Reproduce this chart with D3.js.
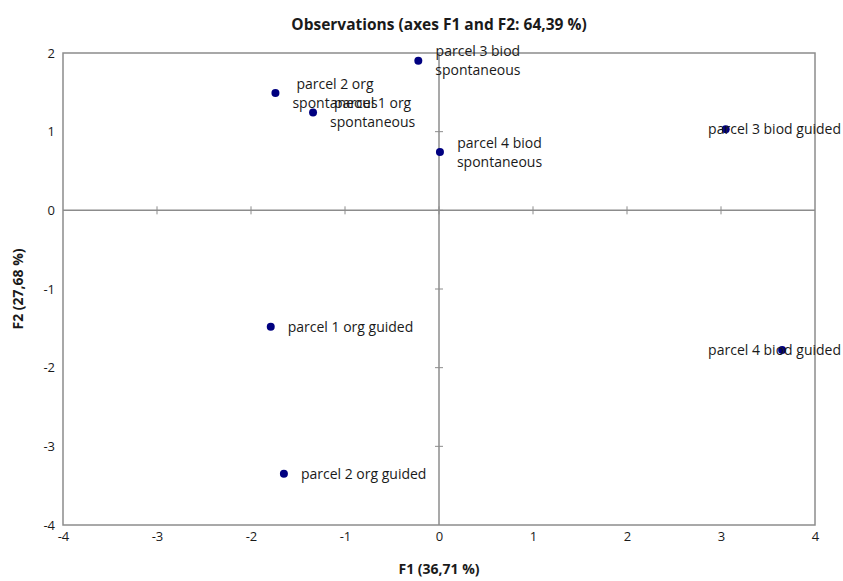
<!DOCTYPE html>
<html>
<head>
<meta charset="utf-8">
<title>Observations (axes F1 and F2)</title>
<style>
  body { margin: 0; background: #fff; }
  text { font-family: 'Open Sans', sans-serif; fill: #1a1a1a; }
</style>
</head>
<body>
<script src="https://d3js.org/d3.v7.min.js"></script>
<script>

var labels = ["parcel 1 org spontaneous", "parcel 2 org spontaneous", "parcel 3 biod spontaneous",
              "parcel 4 biod spontaneous", "parcel 1 org guided", "parcel 2 org guided",
              "parcel 3 biod guided", "parcel 4 biod guided"];
var f1 = [-1.34, -1.74, -0.22, 0.01, -1.79, -1.65, 3.05, 3.65];
var f2 = [1.245, 1.49, 1.90, 0.74, -1.48, -3.35, 1.03, -1.775];
var xTicks = [-4, -3, -2, -1, 0, 1, 2, 3, 4];
var yTicks = [-4, -3, -2, -1, 0, 1, 2];

var W = 843, H = 581;
var margin = {top: 53, right: 28, bottom: 56, left: 63};
var width = W - margin.left - margin.right,
    height = H - margin.top - margin.bottom;

var x = d3.scaleLinear().domain([-4, 4]).range([0, width]);
var y = d3.scaleLinear().domain([-4, 2]).range([height, 0]);

var svg = d3.select("body").append("svg")
    .attr("width", W)
    .attr("height", H);

var g = svg.append("g")
    .attr("transform", "translate(" + margin.left + "," + margin.top + ")");

var grey = "#8c8c8c";

// frame of the plot area
g.append("rect")
    .attr("x", 0).attr("y", 0)
    .attr("width", width).attr("height", height)
    .attr("fill", "none")
    .attr("stroke", grey)
    .attr("stroke-width", 1.5);

// zero axes with cross ticks
var xAxis0 = g.append("g")
    .attr("transform", "translate(0," + y(0) + ")");
xAxis0.append("line").attr("x1", 0).attr("x2", width)
    .attr("stroke", grey).attr("stroke-width", 1.5);
xAxis0.selectAll(".tk").data(xTicks.slice(1, -1)).enter().append("line")
    .attr("x1", function(d) { return x(d); })
    .attr("x2", function(d) { return x(d); })
    .attr("y1", -4).attr("y2", 4)
    .attr("stroke", grey);

var yAxis0 = g.append("g")
    .attr("transform", "translate(" + x(0) + ",0)");
yAxis0.append("line").attr("y1", 0).attr("y2", height)
    .attr("stroke", grey).attr("stroke-width", 1.5);
yAxis0.selectAll(".tk").data(yTicks.slice(1, -1)).enter().append("line")
    .attr("y1", function(d) { return y(d); })
    .attr("y2", function(d) { return y(d); })
    .attr("x1", -4).attr("x2", 4)
    .attr("stroke", grey);

// tick labels on the frame (plain hyphen for minus, as in the original)
var fmt = function(d) { return String(d); };

var bottom = g.append("g")
    .attr("transform", "translate(0," + height + ")")
    .call(d3.axisBottom(x).tickValues(xTicks).tickSize(0).tickPadding(7).tickFormat(fmt));
bottom.select(".domain").remove();

var left = g.append("g")
    .call(d3.axisLeft(y).tickValues(yTicks).tickSize(0).tickPadding(8).tickFormat(fmt));
left.select(".domain").remove();

svg.selectAll(".tick text")
    .attr("font-family", "'Open Sans', sans-serif")
    .attr("font-size", 13)
    .attr("fill", "#1a1a1a");

// titles
svg.append("text")
    .attr("x", margin.left + width / 2)
    .attr("y", 25)
    .attr("dy", "0.35em")
    .attr("text-anchor", "middle")
    .attr("font-size", 15.5)
    .attr("font-weight", "bold")
    .text("Observations (axes F1 and F2: 64,39 %)");

svg.append("text")
    .attr("x", margin.left + width / 2)
    .attr("y", 569)
    .attr("dy", "0.35em")
    .attr("text-anchor", "middle")
    .attr("font-size", 14)
    .attr("font-weight", "bold")
    .text("F1 (36,71 %)");

svg.append("text")
    .attr("transform", "translate(18," + (margin.top + height / 2) + ") rotate(-90)")
    .attr("dy", "0.35em")
    .attr("text-anchor", "middle")
    .attr("font-size", 14)
    .attr("font-weight", "bold")
    .text("F2 (27,68 %)");

// points
var data = labels.map(function(l, i) { return {label: l, f1: f1[i], f2: f2[i]}; });

g.selectAll(".dot").data(data).enter().append("circle")
    .attr("cx", function(d) { return x(d.f1); })
    .attr("cy", function(d) { return y(d.f2); })
    .attr("r", 4)
    .attr("fill", "#000080");

// labels: box starts 17px right of point, lines centred in box, wrapped when long
var lineH = 19;
data.forEach(function(d) {
    var t = g.append("text")
        .attr("font-size", 14)
        .attr("text-anchor", "middle");
    var words = d.label.split(" ");
    var lines = [d.label];
    var probe = t.append("tspan").text(d.label);
    if (probe.node().getComputedTextLength() > 150) {
        lines = [words.slice(0, -1).join(" "), words[words.length - 1]];
    }
    probe.remove();
    var spans = lines.map(function(s) { return t.append("tspan").text(s); });
    var boxW = d3.max(spans, function(s) { return s.node().getComputedTextLength(); });
    var bx = x(d.f1) + 17;
    var maxRight = W - margin.left - 2;
    if (bx + boxW > maxRight) bx = maxRight - boxW;
    var cx = bx + boxW / 2;
    var cy = y(d.f2) - (lines.length - 1) * lineH / 2;
    spans.forEach(function(s, i) {
        s.attr("x", cx).attr("y", cy + i * lineH).attr("dy", "0.35em");
    });
});

</script>
</body>
</html>
